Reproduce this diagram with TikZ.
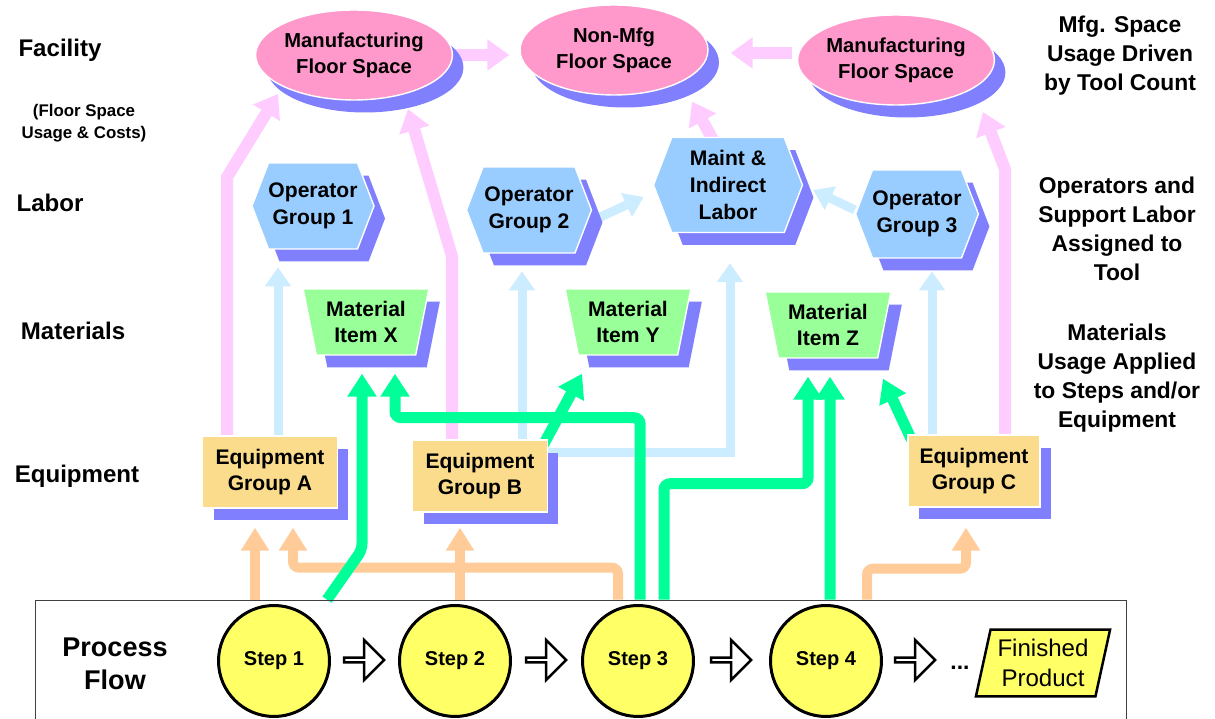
\documentclass[tikz,border=0pt]{standalone}
\usepackage{fontspec}
\setmainfont{Liberation Sans}
\usetikzlibrary{shapes.geometric,shapes.symbols,shapes.arrows,shadows,arrows.meta,calc}

\definecolor{spacepink}{HTML}{FF99CC}
\definecolor{shadowblue}{HTML}{8080FF}
\definecolor{laborblue}{HTML}{99CCFF}
\definecolor{matgreen}{HTML}{99FF99}
\definecolor{equipfill}{HTML}{FADC8C}
\definecolor{stepyellow}{HTML}{FFFF66}
\definecolor{arrowpink}{HTML}{FFCCFF}
\definecolor{arrowblue}{HTML}{CCECFF}
\definecolor{arrowgreen}{HTML}{00FF99}
\definecolor{arroworange}{HTML}{FFCC99}

\pgfdeclarelayer{back}
\pgfsetlayers{back,main}

\begin{document}
\begin{tikzpicture}[x=0.02cm,y=-0.02cm,
    boxfont/.style={font=\fontsize{12}{15.3}\selectfont\bfseries,align=center},
    shade3d/.style={drop shadow={shadow xshift=0.22cm,shadow yshift=-0.25cm,fill=shadowblue,opacity=1}},
    space/.style={ellipse,boxfont,font=\fontsize{11.5}{15}\selectfont\bfseries,fill=spacepink,draw=white,thick,shade3d,
      minimum width=3.76cm,minimum height=1.8cm,inner sep=0pt},
    labor/.style={signal,signal to=east and west,signal pointer angle=138,fill=laborblue,draw=white,thick,shade3d,
      boxfont,inner sep=0pt},
    material/.style={trapezium,shape border rotate=180,trapezium angle=76,trapezium stretches=true,fill=matgreen,
      draw=white,thick,shade3d,boxfont,minimum width=2.52cm,minimum height=1.32cm,inner sep=0pt},
    equip/.style={rectangle,fill=equipfill,draw=white,thick,shade3d,boxfont,minimum width=2.7cm,minimum height=1.44cm},
    stepnode/.style={circle,fill=stepyellow,draw=black,line width=0.06cm,minimum size=2.22cm,
      font=\fontsize{11.4}{13}\selectfont\bfseries},
    flowarrow/.style={single arrow,draw=black,line width=0.05cm,fill=white,minimum height=0.8cm,minimum width=0.8cm,
      single arrow head extend=0.18cm,inner sep=0pt},
    rowlabel/.style={font=\fontsize{13.7}{16.5}\selectfont\bfseries,align=center},
    note/.style={font=\fontsize{13}{16.5}\selectfont\bfseries,align=center},
    pinkarrow/.style={draw=arrowpink,line width=0.24cm,-{Triangle[length=0.44cm,width=0.6cm]}},
    bluearrow/.style={draw=arrowblue,line width=0.18cm,-{Triangle[length=0.38cm,width=0.5cm]}},
    greenarrow/.style={draw=arrowgreen,line width=0.22cm,rounded corners=0.12cm,-{Triangle[length=0.46cm,width=0.56cm]}},
    orangearrow/.style={draw=arroworange,line width=0.2cm,rounded corners=0.12cm,-{Triangle[length=0.46cm,width=0.54cm]}}
  ]
  \useasboundingbox (0,0) rectangle (1215,719);

  % row labels
  \node[rowlabel] (facility) at (60,50) {Facility};
  \node[font=\fontsize{9.6}{12.5}\selectfont\bfseries,align=center] (facnote) at (84,123) {(Floor Space\\Usage \& Costs)};
  \node[rowlabel] (labor) at (50,203) {Labor};
  \node[rowlabel] (materials) at (73,331) {Materials};
  \node[rowlabel] (equipment) at (77,476) {Equipment};

  % notes on the right
  \node[note] (spacenote) at (1120,56) {Mfg. Space\\Usage Driven\\by Tool Count};
  \node[note] (labornote) at (1117,229) {Operators and\\Support Labor\\Assigned to\\Tool};
  \node[note] (matnote) at (1117,378) {Materials\\Usage Applied\\to Steps and/or\\Equipment};

  % facility
  \node[space] (mfgL) at (354,55) {Manufacturing\\Floor Space};
  \node[space] (nonmfg) at (614,50) {Non-Mfg\\Floor Space};
  \node[space] (mfgR) at (896,60) {Manufacturing\\Floor Space};

  % labor
  \node[labor,minimum width=2.4cm,minimum height=1.72cm] (op1) at (313,206) {Operator\\Group 1};
  \node[labor,minimum width=2.5cm,minimum height=1.72cm] (op2) at (529,210) {Operator\\Group 2};
  \node[labor,minimum width=2.98cm,minimum height=1.9cm] (maint) at (728,185) {Maint \&\\Indirect\\Labor};
  \node[labor,minimum width=2.34cm,minimum height=1.76cm] (op3) at (917,214) {Operator\\Group 3};

  % materials
  \node[material] (matX) at (366,322) {Material\\Item X};
  \node[material] (matY) at (628,322) {Material\\Item Y};
  \node[material] (matZ) at (828,325) {Material\\Item Z};

  % equipment
  \node[equip] (eqA) at (270,472) {Equipment\\Group A};
  \node[equip] (eqB) at (480,476) {Equipment\\Group B};
  \node[equip,minimum width=2.64cm] (eqC) at (974,471) {Equipment\\Group C};

  % process flow
  \node[draw=black!75,thin,minimum width=21.82cm,minimum height=2.6cm,inner sep=0pt] (flow) at (580.5,665) {};
  \node[font=\fontsize{15.4}{18.8}\selectfont\bfseries,align=center] (flowlabel) at (115,664) {Process\\Flow};
  \node[stepnode] (step1) at (274,661) {Step 1};
  \node[stepnode] (step2) at (455,661) {Step 2};
  \node[stepnode] (step3) at (638,661) {Step 3};
  \node[stepnode] (step4) at (826,661) {Step 4};
  \node[flowarrow] (go1) at (363,660) {};
  \node[flowarrow] (go2) at (545,660) {};
  \node[flowarrow] (go3) at (730,660) {};
  \node[flowarrow] (go4) at (914,660) {};
  \node[font=\fontsize{13}{15}\selectfont\bfseries] (dots) at (960,668) {...};
  \node[trapezium,trapezium left angle=75,trapezium right angle=105,trapezium stretches=true,fill=stepyellow,
    draw=black,line width=0.05cm,minimum width=2.7cm,minimum height=1.34cm,inner sep=0pt,align=center,
    font=\fontsize{13.7}{17}\selectfont] (product) at (1043,663) {Finished\\Product};

  \begin{pgfonlayer}{back}
    % floor space
    \draw[pinkarrow] ($(eqA.north)+(-43,0)$) -- ++(0,-258) -- ($(mfgL)+(-76,39)$);
    \draw[pinkarrow] ($(eqB.north)+(-28,0)$) -- ++(0,-183) -- ($(mfgL)+(54,54)$);
    \draw[pinkarrow] ($(eqC.north)+(31,0)$) -- ++(0,-265) -- ($(mfgR)+(87,52)$);
    \draw[pinkarrow,shorten >=0.2cm] (mfgL.east) -- (mfgL.east -| nonmfg.west);
    \draw[pinkarrow] ($(mfgR.west)+(-5,-7)$) -- ($(nonmfg.east)+(22,3)$);
    \draw[pinkarrow] ($(maint.north)+(-14,5)$) -- ($(nonmfg.south)+(78,6)$);
    % labor
    \draw[bluearrow] ($(eqA.north)+(8,0)$) -- ++(0,-168);
    \draw[bluearrow] ($(eqB.north)+(42,0)$) -- ++(0,-168);
    \draw[bluearrow] ($(eqB)+(40,-23)$) -| ($(maint.south)+(2,30)$);
    \draw[bluearrow] ($(op2.east)+(6,8)$) -- ($(maint.west)+(-9,12)$);
    \draw[bluearrow] ($(op3.west)+(0,-4)$) -- ($(maint.east)+(10,5)$);
    \draw[bluearrow] ($(eqC.north)+(-42,0)$) -- ++(0,-163);
    % equipment
    \draw[orangearrow] ($(step1 |- flow.north)+(-19,0)$) -- ($(eqA.south)+(-15,19)$);
    \draw[orangearrow] ($(step3 |- flow.north)+(-20,0)$) |- ($(eqA.south)+(23,59)$) -- ($(eqA.south)+(23,19)$);
    \draw[orangearrow] ($(step2 |- flow.north)+(5,0)$) -- ($(eqB.south)+(-20,15)$);
    \draw[orangearrow] ($(step4 |- flow.north)+(41,0)$) |- ($(eqC.south)+(-8,61)$) -- ($(eqC.south)+(-8,20)$);
    % materials
    \draw[greenarrow] ($(step1 |- flow.north)+(53,0)$) -- ++(35,-50) -- ($(matX.south)+(-4,18)$);
    \draw[greenarrow] ($(step3 |- flow.north)+(2,0)$) |- ($(matX.south)+(29,62)$) -- ($(matX.south)+(29,18)$);
    \draw[greenarrow] ($(eqB.north east)+(-10,15)$) -- ($(matY.south)+(-46,18)$);
    \draw[greenarrow] ($(step3 |- flow.north)+(26,0)$) |- ($(matZ.south)+(-20,125)$) -- ($(matZ.south)+(-20,18)$);
    \draw[greenarrow] ($(step4 |- flow.north)+(4,0)$) -- ($(matZ.south)+(2,18)$);
    \draw[greenarrow] ($(eqC.north west)+(4,5)$) -- ($(matZ.south)+(55,20)$);
  \end{pgfonlayer}
\end{tikzpicture}
\end{document}
